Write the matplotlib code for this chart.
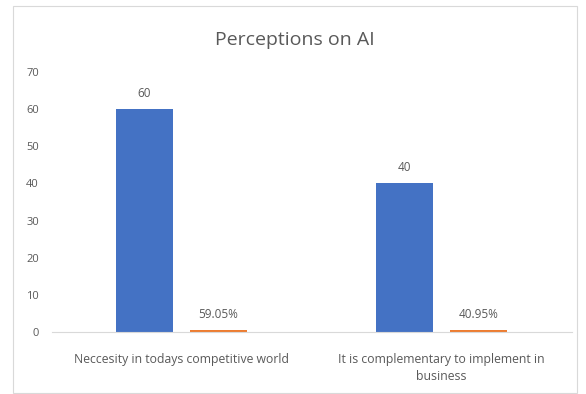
import matplotlib
matplotlib.use("Agg")
import matplotlib.pyplot as plt
from matplotlib.patches import Rectangle
import numpy as np

categories = ["Neccesity in todays competitive world",
              "It is complementary to implement in\nbusiness"]
counts = [60, 40]
shares = [0.5905, 0.4095]
share_labels = ["59.05%", "40.95%"]
yticks = [0, 10, 20, 30, 40, 50, 60, 70]

blue = "#4472C4"
orange = "#ED7D31"
text_gray = "#595959"

plt.rcParams["font.family"] = ["Open Sans", "DejaVu Sans"]

fig = plt.figure(figsize=(5.86, 3.94), dpi=100)
fig.patch.set_facecolor("white")

# chart border
fig.add_artist(Rectangle((12.5 / 586, 1 - 393 / 394), 564.5 / 586, 387 / 394,
                         transform=fig.transFigure, fill=False,
                         edgecolor="#D9D9D9", linewidth=0.8))

ax = fig.add_axes([51.5 / 586, 1 - 332 / 394, 520 / 586, (332 - 72) / 394])
x = np.arange(len(categories))
w = 0.22
off = 0.142
b1 = ax.bar(x - off, counts, width=w, color=blue)
b2 = ax.bar(x + off, shares, width=w, color=orange)

for rect, v in zip(b1, counts):
    ax.text(rect.get_x() + rect.get_width() / 2, v + 2.5, f"{v}",
            ha="center", va="bottom", fontsize=8.5, color=text_gray)
for rect, v, lab in zip(b2, shares, share_labels):
    ax.text(rect.get_x() + rect.get_width() / 2, v + 2.5, lab,
            ha="center", va="bottom", fontsize=8.5, color=text_gray)

ax.set_xlim(-0.5, 1.5)
ax.set_ylim(0, 70)
ax.set_yticks(yticks)
ax.set_xticks(x)
ax.set_xticklabels(categories, fontsize=8.8, color=text_gray, linespacing=1.45)
ax.tick_params(axis="y", labelsize=8, labelcolor=text_gray, length=0, pad=9)
ax.tick_params(axis="x", length=0, pad=15)
for s in ["top", "right", "left"]:
    ax.spines[s].set_visible(False)
ax.spines["bottom"].set_color("#D9D9D9")
ax.spines["bottom"].set_linewidth(0.8)

fig.text(295 / 586, 1 - 40 / 394, "Perceptions on AI", ha="center", va="center",
         fontsize=14, color=text_gray)

fig.savefig("out.png", dpi=100, facecolor="white")
